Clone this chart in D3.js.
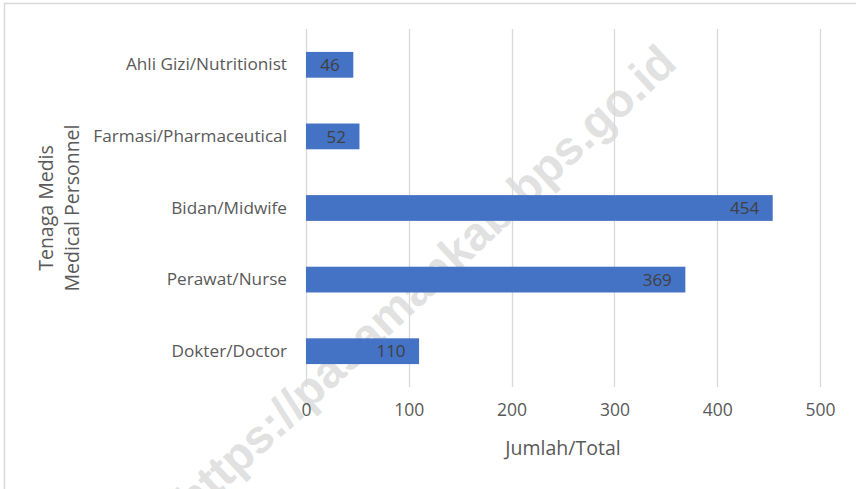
<!DOCTYPE html>
<html>
<head>
<meta charset="utf-8">
<script src="https://cdn.jsdelivr.net/npm/d3@7"></script>
<style>
  html, body { margin: 0; padding: 0; background: #fff; }
  svg { display: block; font-family: "Open Sans", sans-serif; }
</style>
</head>
<body>
<svg id="chart" width="856" height="489"></svg>
<script>
const categories = ["Ahli Gizi/Nutritionist", "Farmasi/Pharmaceutical", "Bidan/Midwife", "Perawat/Nurse", "Dokter/Doctor"];
const values = [46, 52, 454, 369, 110];
const xTicks = [0, 100, 200, 300, 400, 500];
const yTitleLines = ["Tenaga Medis", "Medical Personnel"];
const xTitle = "Jumlah/Total";
const watermark = "https://pasamankab.bps.go.id";

const svg = d3.select("#chart");
const margin = { left: 306, right: 36, top: 29, bottom: 102 };
const width = 856, height = 489;

const x = d3.scaleLinear().domain([0, 500]).range([margin.left, width - margin.right]);
const y = d3.scaleBand().domain(categories).range([margin.top, height - margin.bottom]).paddingInner(0.64).paddingOuter(0.32);

// chart frame (only left/top visible in the crop)
svg.append("rect")
  .attr("x", 4.5).attr("y", 3.5)
  .attr("width", 860).attr("height", 500)
  .attr("fill", "none").attr("stroke", "#d9d9d9").attr("stroke-width", 1.5);

// watermark sits under the plot
svg.append("text")
  .attr("transform", "translate(425,280) rotate(-43)")
  .attr("text-anchor", "middle")
  .attr("dy", "0.35em")
  .attr("font-family", "Liberation Sans, Arial, sans-serif")
  .attr("font-weight", "bold")
  .attr("font-size", 47)
  .attr("fill", "#e1e1e1")
  .text(watermark);

// gridlines
svg.append("g")
  .selectAll("line")
  .data(xTicks)
  .join("line")
  .attr("x1", (d) => Math.round(x(d)) + 0.5)
  .attr("x2", (d) => Math.round(x(d)) + 0.5)
  .attr("y1", margin.top)
  .attr("y2", height - margin.bottom)
  .attr("stroke", "#d9d9d9")
  .attr("stroke-width", 1.3);

// bars
svg.append("g")
  .selectAll("rect")
  .data(values)
  .join("rect")
  .attr("x", x(0))
  .attr("y", (d, i) => y(categories[i]))
  .attr("width", (d) => x(d) - x(0))
  .attr("height", y.bandwidth())
  .attr("fill", "#4472c4");

// data labels (inside end)
svg.append("g")
  .selectAll("text")
  .data(values)
  .join("text")
  .attr("x", (d) => x(d) - 13.5)
  .attr("y", (d, i) => y(categories[i]) + y.bandwidth() / 2)
  .attr("dy", "0.36em")
  .attr("text-anchor", "end")
  .attr("fill", "#404040")
  .attr("font-size", 17)
  .text((d) => d);

// y axis labels
const yAxis = svg.append("g")
  .attr("transform", `translate(${margin.left},0)`)
  .call(d3.axisLeft(y).tickSize(0).tickPadding(19));
yAxis.select(".domain").remove();
yAxis.selectAll("text")
  .attr("font-family", "Open Sans, sans-serif")
  .attr("font-size", 17.2)
  .attr("fill", "#595959");

// x axis labels
const xAxis = svg.append("g")
  .attr("transform", `translate(0,${height - margin.bottom})`)
  .call(d3.axisBottom(x).tickValues(xTicks).tickSize(0).tickPadding(17));
xAxis.select(".domain").remove();
xAxis.selectAll("text")
  .attr("font-family", "Open Sans, sans-serif")
  .attr("font-size", 17.5)
  .attr("fill", "#595959");

// axis titles
svg.append("text")
  .attr("x", (x(0) + x(500)) / 2)
  .attr("y", 448)
  .attr("dy", "0.35em")
  .attr("text-anchor", "middle")
  .attr("font-size", 19.5)
  .attr("fill", "#595959")
  .text(xTitle);

svg.append("g")
  .attr("transform", `translate(0,${(margin.top + height - margin.bottom) / 2}) rotate(-90)`)
  .selectAll("text")
  .data(yTitleLines)
  .join("text")
  .attr("x", 0)
  .attr("y", (d, i) => 46 + i * 26)
  .attr("dy", "0.35em")
  .attr("text-anchor", "middle")
  .attr("font-size", 19.5)
  .attr("fill", "#595959")
  .text((d) => d);
</script>
</body>
</html>
